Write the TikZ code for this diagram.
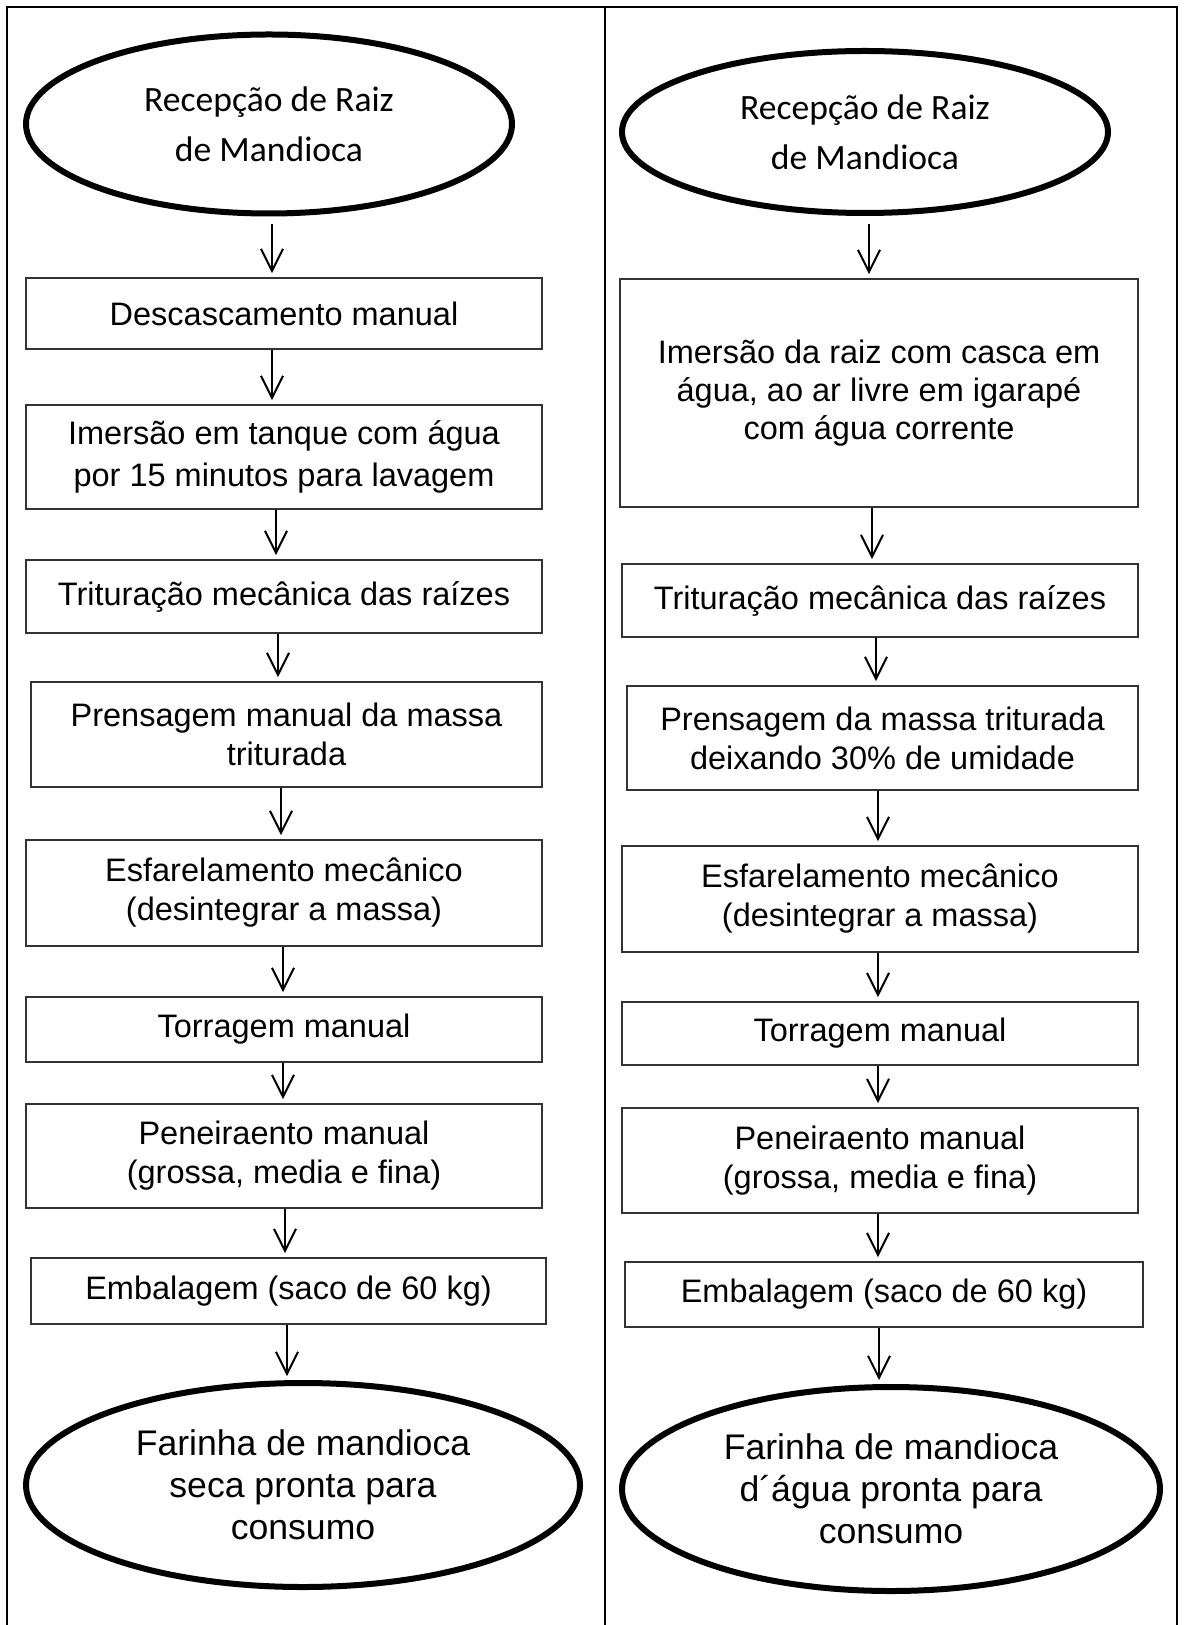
\documentclass[tikz,border=0pt]{standalone}
\usepackage{fontspec}
\setmainfont{Liberation Sans}
\newfontfamily\calfont{Carlito}
\usetikzlibrary{shapes.geometric,arrows.meta}
\newcommand\flowarrow[4]{%
  \path ([xshift=#3]#1.south) coordinate (tmpstart);
  \draw[arr,shorten <=#4] (tmpstart) -- (tmpstart |- #2.north);}
\begin{document}
\begin{tikzpicture}[x=0.5pt,y=-0.5pt,
  box/.style={draw=black!80, line width=0.9pt, fill=white, rectangle, inner sep=0pt,
    align=center, font=\fontsize{16.25}{19.5}\selectfont},
  oval/.style={draw=black, line width=3pt, fill=white, ellipse, inner sep=0pt, align=center},
  topoval/.style={oval, font=\calfont\fontsize{17.8}{25}\selectfont},
  endoval/.style={oval, font=\fontsize{17.8}{21}\selectfont},
  arr/.style={line width=1pt, -{Straight Barb[length=11pt,width=11pt]}, shorten >=2pt},
  framestyle/.style={line width=1pt, draw=black}]
\useasboundingbox (0,0) rectangle (1184,1625);
\draw[framestyle] (7,1625) -- (7,7) -- (1177,7) -- (1177,1625);
\draw[framestyle] (605,7) -- (605,1625);

% left column
\node[topoval, minimum width=243pt, minimum height=89.5pt] (e1) at (269,124) {Recepção de Raiz\\de Mandioca};
\node[box, minimum width=258pt, minimum height=35.5pt] (descL) at (284,313.5) {Descascamento manual};
\node[box, minimum width=258pt, minimum height=52pt, font=\fontsize{16.25}{21}\selectfont] (imL) at (284,457) {Imersão em tanque com água\\por 15 minutos para lavagem};
\node[box, minimum width=258pt, minimum height=36.5pt] (tritL) at (284,596.5) {Trituração mecânica das raízes};
\node[box, minimum width=255.5pt, minimum height=52.5pt] (prensL) at (286.5,734.5) {Prensagem manual da massa\\triturada};
\node[box, minimum width=258pt, minimum height=53pt] (esfL) at (284,893) {Esfarelamento mecânico\\(desintegrar a massa)};
\node[box, minimum width=258pt, minimum height=32.5pt] (torrL) at (284,1029.5) {Torragem manual};
\node[box, minimum width=258pt, minimum height=52pt] (penL) at (284,1156) {Peneiraento manual\\(grossa, media e fina)};
\node[box, minimum width=257.5pt, minimum height=33pt] (embL) at (288.5,1291) {Embalagem (saco de 60 kg)};
\node[endoval, minimum width=277pt, minimum height=102pt] (finL) at (303,1485) {Farinha de mandioca\\seca pronta para\\consumo};

% right column
\node[topoval, minimum width=243pt, minimum height=81pt] (e2) at (865,132) {Recepção de Raiz\\de Mandioca};
\node[box, minimum width=259pt, minimum height=114pt, font=\fontsize{16.25}{19}\selectfont] (imR) at (879,393) {Imersão da raiz com casca em\\água, ao ar livre em igarapé\\com água corrente};
\node[box, minimum width=258pt, minimum height=36.5pt] (tritR) at (880,600.5) {Trituração mecânica das raízes};
\node[box, minimum width=255.5pt, minimum height=52pt] (prensR) at (882.5,738) {Prensagem da massa triturada\\deixando 30\% de umidade};
\node[box, minimum width=258pt, minimum height=53pt] (esfR) at (880,899) {Esfarelamento mecânico\\(desintegrar a massa)};
\node[box, minimum width=258pt, minimum height=31.5pt] (torrR) at (880,1033.5) {Torragem manual};
\node[box, minimum width=258pt, minimum height=52.5pt] (penR) at (880,1160.5) {Peneiraento manual\\(grossa, media e fina)};
\node[box, minimum width=259pt, minimum height=32.5pt] (embR) at (884,1294.5) {Embalagem (saco de 60 kg)};
\node[endoval, minimum width=269pt, minimum height=102pt] (finR) at (891,1489) {Farinha de mandioca\\d´água pronta para\\consumo};

% left arrows
\flowarrow{e1}{descL}{1.5pt}{4pt}
\flowarrow{descL}{imL}{-6pt}{0pt}
\flowarrow{imL}{tritL}{-4pt}{0pt}
\flowarrow{tritL}{prensL}{-3pt}{0pt}
\flowarrow{prensL}{esfL}{-2.75pt}{0pt}
\flowarrow{esfL}{torrL}{-0.5pt}{0pt}
\flowarrow{torrL}{penL}{-0.5pt}{0pt}
\flowarrow{penL}{embL}{0.5pt}{0pt}
\flowarrow{embL}{finL}{-0.75pt}{0pt}

% right arrows
\flowarrow{e2}{imR}{2pt}{4pt}
\flowarrow{imR}{tritR}{-3.5pt}{0pt}
\flowarrow{tritR}{prensR}{-2pt}{0pt}
\flowarrow{prensR}{esfR}{-2.25pt}{0pt}
\flowarrow{esfR}{torrR}{-1pt}{0pt}
\flowarrow{torrR}{penR}{-1pt}{0pt}
\flowarrow{penR}{embR}{-1pt}{0pt}
\flowarrow{embR}{finR}{-2.5pt}{0pt}
\end{tikzpicture}
\end{document}
